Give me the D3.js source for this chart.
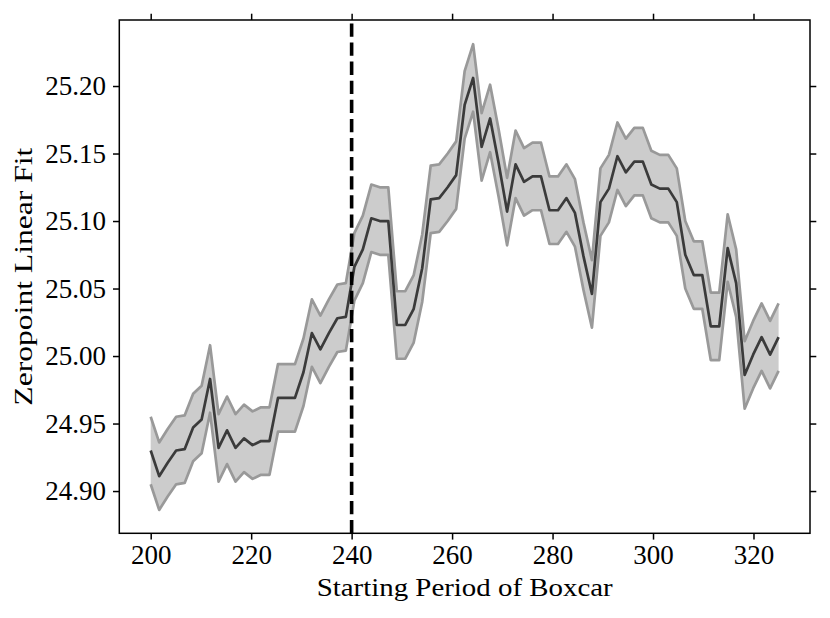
<!DOCTYPE html>
<html>
<head>
<meta charset="utf-8">
<script src="https://cdn.jsdelivr.net/npm/d3@7"></script>
<style>
    body { margin: 0; background: #ffffff; }
    svg text { font-family: "Liberation Serif", "DejaVu Serif", serif; fill: #000; }
</style>
</head>
<body>
<svg id="zp-svg"></svg>
<script>
// starting period of the boxcar (x) for each fit
const periods = [
    200.00, 201.69, 203.38, 205.07, 206.76, 208.45, 210.14, 211.82, 213.51, 215.20,
    216.89, 218.58, 220.27, 221.96, 223.65, 225.34, 227.03, 228.72, 230.41, 232.09,
    233.78, 235.47, 237.16, 238.85, 240.54, 242.23, 243.92, 245.61, 247.30, 248.99,
    250.68, 252.36, 254.05, 255.74, 257.43, 259.12, 260.81, 262.50, 264.19, 265.88,
    267.57, 269.26, 270.95, 272.64, 274.32, 276.01, 277.70, 279.39, 281.08, 282.77,
    284.46, 286.15, 287.84, 289.53, 291.22, 292.91, 294.59, 296.28, 297.97, 299.66,
    301.35, 303.04, 304.73, 306.42, 308.11, 309.80, 311.49, 313.18, 314.86, 316.55,
    318.24, 319.93, 321.62, 323.31, 325.00
];
// zeropoint of the linear fit
const zeropoint = [
    24.930, 24.911, 24.921, 24.930, 24.931, 24.947, 24.953, 24.983, 24.932, 24.945,
    24.932, 24.939, 24.934, 24.937, 24.937, 24.969, 24.969, 24.969, 24.988, 25.017,
    25.005, 25.017, 25.028, 25.029, 25.066, 25.079, 25.102, 25.100, 25.100, 25.023,
    25.023, 25.035, 25.065, 25.116, 25.117, 25.125, 25.134, 25.186, 25.206, 25.155,
    25.176, 25.143, 25.107, 25.142, 25.129, 25.133, 25.133, 25.108, 25.108, 25.117,
    25.106, 25.074, 25.046, 25.114, 25.124, 25.148, 25.136, 25.144, 25.144, 25.127,
    25.124, 25.124, 25.114, 25.075, 25.060, 25.060, 25.022, 25.022, 25.080, 25.054,
    24.986, 25.001, 25.014, 25.001, 25.014
];
// half width of the shaded band
const zpErr = [
    0.025, 0.025, 0.025, 0.025, 0.025, 0.025, 0.025, 0.025, 0.025, 0.025,
    0.025, 0.025, 0.025, 0.025, 0.025, 0.025, 0.025, 0.025, 0.025, 0.025,
    0.025, 0.025, 0.025, 0.025, 0.025, 0.025, 0.025, 0.025, 0.025, 0.025,
    0.025, 0.025, 0.025, 0.025, 0.025, 0.025, 0.025, 0.025, 0.025, 0.025,
    0.025, 0.025, 0.025, 0.025, 0.025, 0.025, 0.025, 0.025, 0.025, 0.025,
    0.025, 0.025, 0.025, 0.025, 0.025, 0.025, 0.025, 0.025, 0.025, 0.025,
    0.025, 0.025, 0.025, 0.025, 0.025, 0.025, 0.025, 0.025, 0.025, 0.025,
    0.025, 0.025, 0.025, 0.025, 0.025
];
const xTicks = [200, 220, 240, 260, 280, 300, 320];
const yTicks = [24.90, 24.95, 25.00, 25.05, 25.10, 25.15, 25.20];
const cutPeriod = 240;

function init() {
    const s_width = 830;
    const s_height = 618;
    const plot = {left: 119.3, right: 810, top: 20, bottom: 533.3};
    const tickLen = 6.3;
    const tickFont = 27;
    const titleFont = 26;

    const svg = d3.select("#zp-svg")
        .attr("width", s_width)
        .attr("height", s_height);

    const data = periods.map((p, i) => ({
        x: p,
        y: zeropoint[i],
        lo: zeropoint[i] - zpErr[i],
        hi: zeropoint[i] + zpErr[i]
    }));

    const scaleX = d3.scaleLinear()
        .domain([193.75, 331.25])
        .range([plot.left, plot.right]);
    const scaleY = d3.scaleLinear()
        .domain([24.8687, 25.2489])
        .range([plot.bottom, plot.top]);

    //shaded band
    svg.append("path")
        .datum(data)
        .attr("fill", "#cccccc")
        .attr("stroke", "none")
        .attr("d", d3.area()
            .x(d => scaleX(d.x))
            .y0(d => scaleY(d.lo))
            .y1(d => scaleY(d.hi)));

    //band edges
    [d => d.hi, d => d.lo].forEach(acc => {
        svg.append("path")
            .datum(data)
            .attr("fill", "none")
            .attr("stroke", "#999999")
            .attr("stroke-width", 2.7)
            .attr("stroke-linejoin", "round")
            .attr("d", d3.line().x(d => scaleX(d.x)).y(d => scaleY(acc(d))));
    });

    //mean line
    svg.append("path")
        .datum(data)
        .attr("fill", "none")
        .attr("stroke", "#3b3b3b")
        .attr("stroke-width", 2.7)
        .attr("stroke-linejoin", "round")
        .attr("d", d3.line().x(d => scaleX(d.x)).y(d => scaleY(d.y)));

    //dashed cut line
    svg.append("line")
        .attr("x1", scaleX(cutPeriod))
        .attr("x2", scaleX(cutPeriod))
        .attr("y1", plot.bottom)
        .attr("y2", plot.top)
        .attr("stroke", "#000000")
        .attr("stroke-width", 3.6)
        .attr("stroke-dasharray", "13.3 5.8");

    //axes, ticks out on all four sides
    const fmt = d3.format(".2f");
    const xAxis = d3.axisBottom(scaleX).tickValues(xTicks).tickSize(tickLen).tickPadding(5.5);
    const xTop = d3.axisTop(scaleX).tickValues(xTicks).tickSize(tickLen).tickFormat("");
    const yAxis = d3.axisLeft(scaleY).tickValues(yTicks).tickSize(tickLen).tickPadding(7).tickFormat(fmt);
    const yRight = d3.axisRight(scaleY).tickValues(yTicks).tickSize(tickLen).tickFormat("");

    const gx = svg.append("g")
        .attr("class", "axis x-axis")
        .attr("transform", `translate(0, ${plot.bottom})`)
        .call(xAxis);
    const gt = svg.append("g")
        .attr("transform", `translate(0, ${plot.top})`)
        .call(xTop);
    const gy = svg.append("g")
        .attr("class", "axis y-axis")
        .attr("transform", `translate(${plot.left}, 0)`)
        .call(yAxis);
    const gr = svg.append("g")
        .attr("transform", `translate(${plot.right}, 0)`)
        .call(yRight);

    [gx, gt, gy, gr].forEach(g => {
        g.select(".domain").remove();
        g.selectAll(".tick line").attr("stroke", "#000").attr("stroke-width", 1.5);
        g.selectAll("text")
            .style("font-size", tickFont + "px")
            .style("font-family", '"Liberation Serif", "DejaVu Serif", serif');
    });

    //frame
    svg.append("rect")
        .attr("x", plot.left)
        .attr("y", plot.top)
        .attr("width", plot.right - plot.left)
        .attr("height", plot.bottom - plot.top)
        .attr("fill", "none")
        .attr("stroke", "#000")
        .attr("stroke-width", 1.5);

    //axis titles
    svg.append("text")
        .attr("x", (plot.left + plot.right) / 2)
        .attr("y", 596)
        .attr("text-anchor", "middle")
        .attr("textLength", 296)
        .attr("lengthAdjust", "spacingAndGlyphs")
        .style("font-size", titleFont + "px")
        .text("Starting Period of Boxcar");

    svg.append("text")
        .attr("transform", `translate(31.5, ${(plot.top + plot.bottom) / 2}) rotate(-90)`)
        .attr("text-anchor", "middle")
        .attr("textLength", 258)
        .attr("lengthAdjust", "spacingAndGlyphs")
        .style("font-size", titleFont + "px")
        .text("Zeropoint Linear Fit");
}

window.onload = init;
</script>
</body>
</html>
